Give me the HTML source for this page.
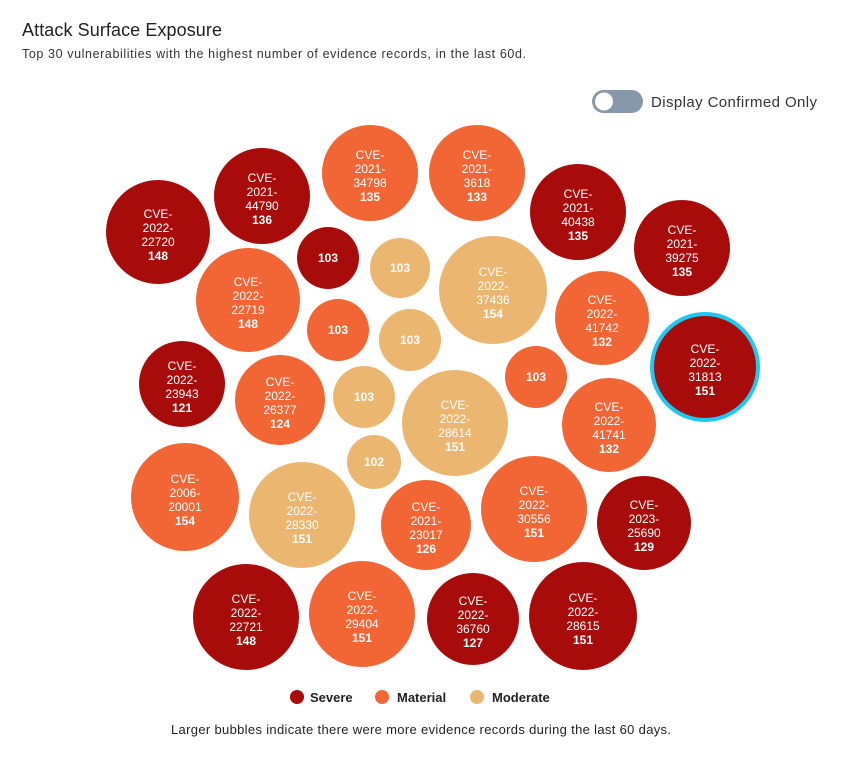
<!DOCTYPE html>
<html><head><meta charset="utf-8"><style>
body{margin:0;background:#fff;font-family:"Liberation Sans",sans-serif;}
</style></head><body>
<svg width="844" height="768" xmlns="http://www.w3.org/2000/svg" font-family="Liberation Sans, sans-serif">
<rect width="844" height="768" fill="#fff"/>
<text x="22" y="36" font-size="18" fill="#222" textLength="200">Attack Surface Exposure</text>
<text x="22" y="58" font-size="12.5" fill="#333" textLength="504">Top 30 vulnerabilities with the highest number of evidence records, in the last 60d.</text>
<rect x="592" y="90" width="51" height="23" rx="11.5" fill="#8597a8"/>
<circle cx="604" cy="101.5" r="9" fill="#fff"/>
<text x="651" y="107" font-size="15" fill="#333" textLength="166">Display Confirmed Only</text>
<g text-anchor="middle" fill="#fff" font-size="12">
<circle cx="158" cy="232" r="52" fill="#a80c0a"/><text x="158" y="218">CVE-</text><text x="158" y="232">2022-</text><text x="158" y="246">22720</text><text x="158" y="260" font-weight="bold">148</text>
<circle cx="262" cy="196" r="48" fill="#a80c0a"/><text x="262" y="182">CVE-</text><text x="262" y="196">2021-</text><text x="262" y="210">44790</text><text x="262" y="224" font-weight="bold">136</text>
<circle cx="370" cy="173" r="48" fill="#f26534"/><text x="370" y="159">CVE-</text><text x="370" y="173">2021-</text><text x="370" y="187">34798</text><text x="370" y="201" font-weight="bold">135</text>
<circle cx="477" cy="173" r="48" fill="#f26534"/><text x="477" y="159">CVE-</text><text x="477" y="173">2021-</text><text x="477" y="187">3618</text><text x="477" y="201" font-weight="bold">133</text>
<circle cx="578" cy="212" r="48" fill="#a80c0a"/><text x="578" y="198">CVE-</text><text x="578" y="212">2021-</text><text x="578" y="226">40438</text><text x="578" y="240" font-weight="bold">135</text>
<circle cx="682" cy="248" r="48" fill="#a80c0a"/><text x="682" y="234">CVE-</text><text x="682" y="248">2021-</text><text x="682" y="262">39275</text><text x="682" y="276" font-weight="bold">135</text>
<circle cx="328" cy="258" r="31" fill="#a80c0a"/><text x="328" y="262" font-weight="bold">103</text>
<circle cx="400" cy="268" r="30" fill="#ebb670"/><text x="400" y="272" font-weight="bold">103</text>
<circle cx="493" cy="290" r="54" fill="#ebb670"/><text x="493" y="276">CVE-</text><text x="493" y="290">2022-</text><text x="493" y="304">37436</text><text x="493" y="318" font-weight="bold">154</text>
<circle cx="248" cy="300" r="52" fill="#f26534"/><text x="248" y="286">CVE-</text><text x="248" y="300">2022-</text><text x="248" y="314">22719</text><text x="248" y="328" font-weight="bold">148</text>
<circle cx="338" cy="330" r="31" fill="#f26534"/><text x="338" y="334" font-weight="bold">103</text>
<circle cx="410" cy="340" r="31" fill="#ebb670"/><text x="410" y="344" font-weight="bold">103</text>
<circle cx="602" cy="318" r="47" fill="#f26534"/><text x="602" y="304">CVE-</text><text x="602" y="318">2022-</text><text x="602" y="332">41742</text><text x="602" y="346" font-weight="bold">132</text>
<circle cx="705" cy="367" r="55" fill="#1ec8f0"/><circle cx="705" cy="367" r="51" fill="#a80c0a"/><text x="705" y="353">CVE-</text><text x="705" y="367">2022-</text><text x="705" y="381">31813</text><text x="705" y="395" font-weight="bold">151</text>
<circle cx="182" cy="384" r="43" fill="#a80c0a"/><text x="182" y="370">CVE-</text><text x="182" y="384">2022-</text><text x="182" y="398">23943</text><text x="182" y="412" font-weight="bold">121</text>
<circle cx="280" cy="400" r="45" fill="#f26534"/><text x="280" y="386">CVE-</text><text x="280" y="400">2022-</text><text x="280" y="414">26377</text><text x="280" y="428" font-weight="bold">124</text>
<circle cx="364" cy="397" r="31" fill="#ebb670"/><text x="364" y="401" font-weight="bold">103</text>
<circle cx="455" cy="423" r="53" fill="#ebb670"/><text x="455" y="409">CVE-</text><text x="455" y="423">2022-</text><text x="455" y="437">28614</text><text x="455" y="451" font-weight="bold">151</text>
<circle cx="536" cy="377" r="31" fill="#f26534"/><text x="536" y="381" font-weight="bold">103</text>
<circle cx="609" cy="425" r="47" fill="#f26534"/><text x="609" y="411">CVE-</text><text x="609" y="425">2022-</text><text x="609" y="439">41741</text><text x="609" y="453" font-weight="bold">132</text>
<circle cx="374" cy="462" r="27" fill="#ebb670"/><text x="374" y="466" font-weight="bold">102</text>
<circle cx="185" cy="497" r="54" fill="#f26534"/><text x="185" y="483">CVE-</text><text x="185" y="497">2006-</text><text x="185" y="511">20001</text><text x="185" y="525" font-weight="bold">154</text>
<circle cx="302" cy="515" r="53" fill="#ebb670"/><text x="302" y="501">CVE-</text><text x="302" y="515">2022-</text><text x="302" y="529">28330</text><text x="302" y="543" font-weight="bold">151</text>
<circle cx="426" cy="525" r="45" fill="#f26534"/><text x="426" y="511">CVE-</text><text x="426" y="525">2021-</text><text x="426" y="539">23017</text><text x="426" y="553" font-weight="bold">126</text>
<circle cx="534" cy="509" r="53" fill="#f26534"/><text x="534" y="495">CVE-</text><text x="534" y="509">2022-</text><text x="534" y="523">30556</text><text x="534" y="537" font-weight="bold">151</text>
<circle cx="644" cy="523" r="47" fill="#a80c0a"/><text x="644" y="509">CVE-</text><text x="644" y="523">2023-</text><text x="644" y="537">25690</text><text x="644" y="551" font-weight="bold">129</text>
<circle cx="246" cy="617" r="53" fill="#a80c0a"/><text x="246" y="603">CVE-</text><text x="246" y="617">2022-</text><text x="246" y="631">22721</text><text x="246" y="645" font-weight="bold">148</text>
<circle cx="362" cy="614" r="53" fill="#f26534"/><text x="362" y="600">CVE-</text><text x="362" y="614">2022-</text><text x="362" y="628">29404</text><text x="362" y="642" font-weight="bold">151</text>
<circle cx="473" cy="619" r="46" fill="#a80c0a"/><text x="473" y="605">CVE-</text><text x="473" y="619">2022-</text><text x="473" y="633">36760</text><text x="473" y="647" font-weight="bold">127</text>
<circle cx="583" cy="616" r="54" fill="#a80c0a"/><text x="583" y="602">CVE-</text><text x="583" y="616">2022-</text><text x="583" y="630">28615</text><text x="583" y="644" font-weight="bold">151</text>
</g>
<circle cx="297" cy="697" r="7" fill="#a80c0a"/><text x="310" y="702" font-size="13" font-weight="bold" fill="#222">Severe</text>
<circle cx="382" cy="697" r="7" fill="#f26534"/><text x="397" y="702" font-size="13" font-weight="bold" fill="#222">Material</text>
<circle cx="477" cy="697" r="7" fill="#ebb670"/><text x="492" y="702" font-size="13" font-weight="bold" fill="#222">Moderate</text>
<text x="171" y="734" font-size="13" fill="#222" textLength="500">Larger bubbles indicate there were more evidence records during the last 60 days.</text>
</svg>
</body></html>
